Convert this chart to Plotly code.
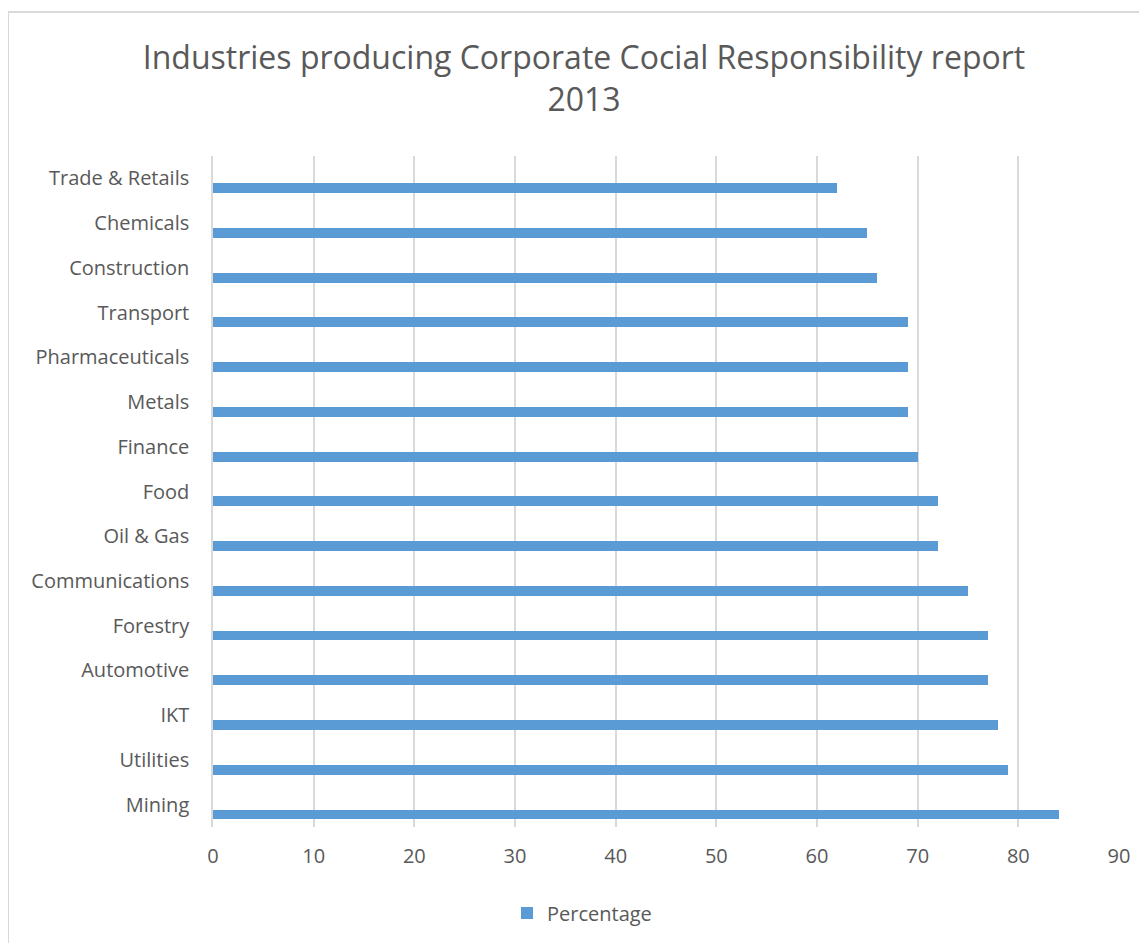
import plotly.graph_objects as go

# Data (bottom to top as plotted)
industries = ["Mining", "Utilities", "IKT", "Automotive", "Forestry", "Communications",
              "Oil & Gas", "Food", "Finance", "Metals", "Pharmaceuticals", "Transport",
              "Construction", "Chemicals", "Trade & Retails"]
percentage = [84, 79, 78, 77, 77, 75, 72, 72, 70, 69, 69, 69, 66, 65, 62]
x_ticks = [0, 10, 20, 30, 40, 50, 60, 70, 80, 90]

BAR = "#5b9bd5"
TXT = "#595959"
GRID = "#d9d9d9"
FONT = "Open Sans"

fig = go.Figure()
fig.add_trace(go.Bar(
    x=percentage, y=industries, orientation="h", name="Percentage",
    marker=dict(color=BAR, line=dict(width=0)),
    width=0.22, offset=-0.33, showlegend=True,
))

# page is offset by 8px body margin
OFF = 8
W, H = 1147, 943
ml, mr, mt, mb = 213 - OFF, 36, 156 - OFF, 124
pw, ph = W - ml - mr, H - mt - mb

def px2x(px):
    return (px - OFF - ml) / pw

def py2y(py):
    return (H - mb - (py - OFF)) / ph

fig.update_layout(
    width=W, height=H,
    margin=dict(l=ml, r=mr, t=mt, b=mb),
    paper_bgcolor="white", plot_bgcolor="white",
    font=dict(family=FONT, color=TXT, size=20),
    title=dict(text="Industries producing Corporate Cocial Responsibility report<br>2013",
               x=px2x(584), xanchor="center", xref="paper", y=1 - (69 - OFF) / H, yanchor="middle",
               font=dict(family=FONT, size=32, color=TXT)),
    xaxis=dict(range=[0, 90], tickvals=x_ticks, showgrid=True, gridcolor=GRID, gridwidth=1.5,
               zeroline=False, showline=False, ticks="", tickfont=dict(size=20, color=TXT),
               ticklabelstandoff=15, fixedrange=True),
    yaxis=dict(type="category", categoryorder="array", categoryarray=industries,
               showgrid=False, zeroline=False, showline=True, linecolor=GRID, linewidth=1.5,
               ticks="", ticklabelstandoff=18, tickfont=dict(size=20, color=TXT),
               range=[-0.5, 14.5], fixedrange=True),
    legend=dict(orientation="h", x=px2x(507), xanchor="left", y=py2y(913), yanchor="middle",
                font=dict(size=20, color=TXT), itemwidth=30),
    bargap=0,
    shapes=[dict(type="rect", xref="paper", yref="paper",
                 x0=px2x(8), x1=px2x(1170), y0=py2y(960), y1=py2y(12),
                 line=dict(color="#d9d9d9", width=2), fillcolor="rgba(0,0,0,0)", layer="below")],
)

fig.write_html("out.html")
